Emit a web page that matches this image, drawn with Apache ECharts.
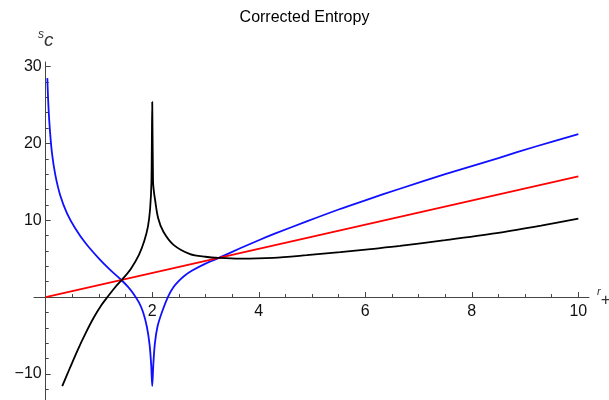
<!DOCTYPE html>
<html>
<head>
<meta charset="UTF-8">
<title>Corrected Entropy</title>
<script src="https://cdn.jsdelivr.net/npm/echarts@6/dist/echarts.min.js"></script>
<style>
  html, body { margin: 0; padding: 0; background: #fff; }
  #main { width: 609px; height: 400px; }
</style>
</head>
<body>
<div id="main"></div>
<script>
// values (r+ , Sc)
var blueR = [0.03, 0.05, 0.08, 0.12, 0.18, 0.27, 0.4, 0.55, 0.75, 1.0, 1.2, 1.4, 1.55, 1.65, 1.75, 1.83, 1.9, 1.95, 1.98, 2.0,
             2.02, 2.05, 2.1, 2.18, 2.3, 2.4, 2.5, 2.6, 2.75, 3.0, 3.25, 3.65, 4.0, 4.3, 4.9, 5.5, 6.0, 6.65, 7.5, 8.5, 9.2, 10];
var blueS = [28.5, 25.0, 21.6, 18.6, 15.9, 13.3, 10.9, 9.0, 7.0, 5.0, 3.6, 2.35, 1.3, 0.4, -0.7, -2.0, -3.9, -6.2, -8.8, -11.6,
             -8.8, -6.0, -3.8, -2.0, 0.1, 1.3, 2.1, 2.75, 3.45, 4.35, 5.1, 6.35, 7.4, 8.25, 9.85, 11.4, 12.6, 14.1, 16.0, 18.1, 19.6, 21.2];

var blackR = [0.31, 0.45, 0.6, 0.75, 0.9, 1.05, 1.17, 1.3, 1.45, 1.6, 1.75, 1.85, 1.92, 1.96, 1.985, 2.0,
              2.015, 2.03, 2.05, 2.11, 2.21, 2.4, 2.71, 3.0, 3.25, 3.65, 4.27, 4.9, 5.53, 6.1, 6.65, 7.5, 8.53, 9.3, 10];
var blackS = [-11.6, -9.3, -6.9, -4.7, -2.7, -1.0, 0.1, 1.25, 2.4, 3.7, 5.5, 7.3, 9.2, 11.5, 15, 25.4,
              15, 13.8, 12.8, 10.3, 8.5, 6.8, 5.6, 5.25, 5.1, 5.0, 5.1, 5.45, 5.85, 6.25, 6.65, 7.42, 8.4, 9.3, 10.2];

var redR = [0, 10];
var redS = [0, 15.7];

var xMajor = [2, 4, 6, 8, 10];
var xMinor = [0.5, 1, 1.5, 2.5, 3, 3.5, 4.5, 5, 5.5, 6.5, 7, 7.5, 8.5, 9, 9.5];
var yMajor = [-10, 10, 20, 30];
var yMinor = [-12, -8, -6, -4, -2, 2, 4, 6, 8, 12, 14, 16, 18, 22, 24, 26, 28];

function zip(a, b) {
    return a.map(function (v, i) { return [v, b[i]]; });
}

// grid is 555 x 338 px, x from -0.22 to 10.2, y from -13.4 to 30.6
var X_MIN = -0.22, X_MAX = 10.2, Y_MIN = -13.4, Y_MAX = 30.6;
var G_LEFT = 34, G_TOP = 62, G_W = 555, G_H = 338;
// shift axes onto the zero lines
var xOffset = -(G_H * (0 - Y_MIN) / (Y_MAX - Y_MIN));
var yOffset = -(G_W * (0 - X_MIN) / (X_MAX - X_MIN));

var axisColor = '#444';
var labelFont = { color: '#111', fontSize: 16, fontFamily: 'Liberation Sans, Arial, sans-serif' };

function xAxisDef(ticks, len, labels) {
    return {
        type: 'value', min: X_MIN, max: X_MAX, position: 'bottom', offset: xOffset,
        axisLine: { show: labels, onZero: false, lineStyle: { color: axisColor, width: 1 } },
        axisTick: { show: true, inside: true, length: len, customValues: ticks, lineStyle: { color: axisColor } },
        axisLabel: Object.assign({ show: labels, customValues: xMajor, margin: 7 }, labelFont),
        splitLine: { show: false },
        name: labels ? '{a|r}{b|+}' : '',
        nameLocation: 'end', nameGap: 8,
        nameTextStyle: {
            rich: {
                a: { fontSize: 11, fontStyle: 'italic', color: '#333', padding: [0, 0, 10, 0], fontFamily: 'Liberation Sans' },
                b: { fontSize: 17, color: '#333', padding: [6, 0, 0, 0], fontFamily: 'Liberation Sans' }
            }
        }
    };
}

function yAxisDef(ticks, len, labels) {
    return {
        type: 'value', min: Y_MIN, max: Y_MAX, position: 'left', offset: yOffset,
        axisLine: { show: labels, onZero: false, lineStyle: { color: axisColor, width: 1 } },
        axisTick: { show: true, inside: true, length: len, customValues: ticks, lineStyle: { color: axisColor } },
        axisLabel: Object.assign({
            show: labels, customValues: yMajor, margin: 4,
            formatter: function (v) { return v < 0 ? '\u2212' + Math.abs(v) : String(v); }
        }, labelFont),
        splitLine: { show: false },
        name: labels ? '{a|s}{b|c}' : '',
        nameLocation: 'end', nameGap: 9,
        nameTextStyle: {
            rich: {
                a: { fontSize: 12, fontStyle: 'italic', color: '#333', padding: [0, 0, 12, 0], fontFamily: 'Liberation Sans' },
                b: { fontSize: 19, fontStyle: 'italic', color: '#333', fontFamily: 'Liberation Sans' }
            }
        }
    };
}

var chart = echarts.init(document.getElementById('main'));
var option = {
    animation: false,
    backgroundColor: '#fff',
    title: {
        text: 'Corrected Entropy', left: 'center', top: 5,
        textStyle: { fontSize: 16, fontWeight: 'normal', color: '#000', fontFamily: 'Liberation Sans, Arial, sans-serif' }
    },
    grid: { left: G_LEFT, top: G_TOP, width: G_W, height: G_H, containLabel: false, outerBoundsMode: 'none' },
    xAxis: [xAxisDef(xMajor, 5, true), xAxisDef(xMinor, 3, false)],
    yAxis: [yAxisDef(yMajor, 5, true), yAxisDef(yMinor, 3, false)],
    series: [
        {
            name: 'blue', type: 'line', data: zip(blueR, blueS), showSymbol: false,
            smooth: 0.3,
            lineStyle: { color: '#1010ff', width: 1.8 }
        },
        {
            name: 'red', type: 'line', data: zip(redR, redS), showSymbol: false,
            lineStyle: { color: '#ff0000', width: 1.8 }
        },
        {
            name: 'black', type: 'line', data: zip(blackR, blackS), showSymbol: false,
            smooth: 0.3,
            lineStyle: { color: '#000', width: 1.8 }
        }
    ]
};
chart.setOption(option);
</script>
</body>
</html>
